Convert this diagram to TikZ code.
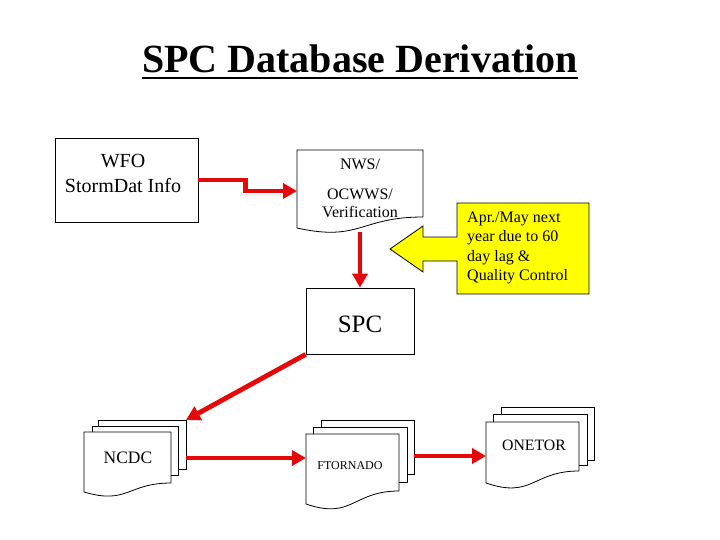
\documentclass[tikz,border=0pt]{standalone}
\usepackage{fontspec}
\setmainfont{Liberation Serif}
\usetikzlibrary{arrows.meta}
\definecolor{arrred}{RGB}{228,8,8}
\definecolor{callyellow}{RGB}{255,255,0}
\tikzset{
  flow/.style={draw=arrred, line width=4.8pt, -{Triangle[length=14pt,width=15pt]}},
  box/.style={draw=black, line width=0.8pt, fill=white, inner sep=0pt},
  page/.style={draw=black, line width=0.8pt, fill=white, line join=miter},
  anchorbox/.style={inner sep=0pt, outer sep=0pt},
  lbl/.style={inner sep=0pt, align=center},
}
\newcommand{\docfront}[6]{%
  \draw[page] (#1,#2) -- (#3,#2) -- (#3,#4) .. controls ({(#1+#3)/2},#4) and ({(#1+#3)/2},#6) .. (#1,#5) -- cycle;}
\begin{document}
\begin{tikzpicture}[x=1pt,y=-1pt]
\useasboundingbox (0,0) rectangle (720,540);
\fill[white] (0,0) rectangle (720,540);

% title
\node[anchor=base, inner sep=0pt, font=\fontsize{40}{48}\selectfont\bfseries] (title) at (360,73) {SPC Database Derivation};
\draw[line width=2.5pt] ([yshift=-5pt]title.base west) -- ([yshift=-5pt]title.base east);

% WFO box
\node[box, minimum width=143pt, minimum height=84pt] (wfo) at (126.5,180) {};
\node[lbl, font=\fontsize{20}{25}\selectfont] (wfotext) at (123,173) {WFO\\StormDat Info};

% NWS document
\docfront{297}{150}{423}{217}{228}{242}
\node[anchorbox, minimum width=126pt, minimum height=82pt] (nws) at (360,191) {};
\node[lbl, font=\fontsize{16}{18}\selectfont] (nwstext) at (360,188) {NWS/\\[12pt]OCWWS/\\Verification};

% yellow callout
\draw[fill=callyellow, line width=0.8pt, line join=miter] (457,203) -- (589,203) -- (589,294) -- (457,294) -- (457,261) -- (423,261) -- (423,272) -- (390,249) -- (423,226) -- (423,237) -- (457,237) -- cycle;
\node[inner sep=0pt, align=left, anchor=west, font=\fontsize{16}{19.3}\selectfont] (note) at (467,248) {Apr./May next\\year due to 60\\day lag \&\\Quality Control};

% SPC box
\node[box, minimum width=108pt, minimum height=66pt] (spc) at (360,321) {};
\node[lbl, font=\fontsize{25}{29}\selectfont] (spctext) at (360,324) {SPC};

% NCDC multi-document
\draw[page] (98,420) rectangle (186,469);
\draw[page] (92,426) rectangle (178,475);
\docfront{84}{432}{171}{483}{492}{505}
\node[anchorbox, minimum width=88pt, minimum height=49pt] (ncdcback) at (142,444.5) {};
\node[anchorbox, minimum width=87pt, minimum height=55pt] (ncdcfront) at (127.5,459.5) {};
\node[lbl, font=\fontsize{17.5}{21}\selectfont] (ncdc) at (128,458) {NCDC};

% FTORNADO multi-document
\draw[page] (321,420) rectangle (414,474);
\draw[page] (313,427) rectangle (407,482);
\docfront{306}{434}{399}{491}{504}{520}
\node[anchorbox, minimum width=93pt, minimum height=54pt] (ftorback) at (367.5,447) {};
\node[anchorbox, minimum width=93pt, minimum height=56pt] (ftorfront) at (352.5,462) {};
\node[lbl, font=\fontsize{12}{14}\selectfont] (ftor) at (350,466) {FTORNADO};

% ONETOR multi-document
\draw[page] (501,407) rectangle (594,460);
\draw[page] (493,414) rectangle (587,465);
\docfront{486}{422}{579}{471}{483}{499}
\node[anchorbox, minimum width=93pt, minimum height=53pt] (onetorback) at (547.5,433.5) {};
\node[anchorbox, minimum width=93pt, minimum height=49pt] (onetorfront) at (532.5,446.5) {};
\node[lbl, font=\fontsize{15.8}{18}\selectfont] (onetor) at (534,445) {ONETOR};

% connectors
\draw[flow] (wfo.east) -- ++(47,0) |- (nws.west);
\draw[flow] (nws.south) -- (spc.north);
\draw[flow] (spc.south west) -- (ncdcback.north east);
\draw[flow] (ncdcback.east |- ncdc) -- (ftorfront.west |- ncdc);
\draw[flow] (ftorback.east |- 0,456) -- (onetorfront.west |- 0,456);
\end{tikzpicture}
\end{document}
